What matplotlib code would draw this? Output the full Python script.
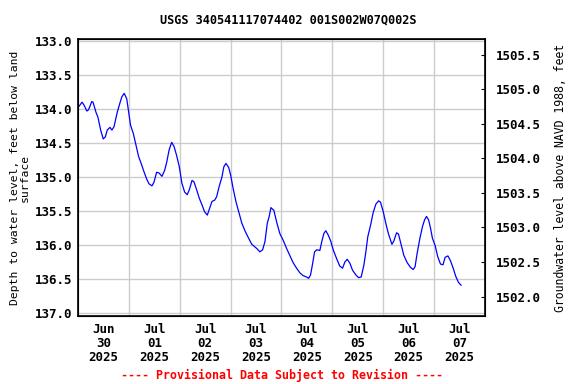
import matplotlib as mpl
mpl.use('Agg')
import matplotlib.pyplot as plt
import matplotlib.dates as mdates
from datetime import datetime, timedelta

plt.rcParams['font.family'] = ['DejaVu Sans Mono']
plt.rcParams['font.weight'] = 'bold'

# hours since 2025-06-30 00:00 and depth to water (ft below land surface)
hours = [0.5, 1.9, 2.8, 4.2, 5.0, 6.5, 7.1, 8.5, 9.4, 10.7, 11.9, 12.9, 13.8, 15.1, 16.0,
         17.0, 18.5, 19.8, 20.7, 21.8, 23.0, 23.9, 24.8, 26.1, 27.3, 28.6, 29.8, 31.1, 32.4,
         33.5, 34.9, 35.8, 37.1, 38.2, 39.6, 40.9, 41.8, 43.0, 44.2, 45.3, 46.5, 47.8, 48.7,
         49.0, 50.3, 51.5, 52.5, 53.8, 54.7, 56.0, 57.2, 58.5, 59.7, 61.0, 61.9, 63.2, 64.5,
         65.4, 66.6, 67.9, 68.8, 69.8, 71.1, 72.0, 73.2, 74.5, 75.8, 77.3, 78.9, 80.5, 82.0,
         84.3, 85.8, 87.1, 88.2, 89.3, 90.2, 91.0, 92.4, 93.7, 95.2, 96.8, 98.4, 100.0, 101.5,
         103.1, 104.7, 106.2, 107.8, 108.8, 109.7, 110.7, 111.6, 112.6, 114.1, 115.0, 116.0,
         116.9, 118.0, 119.2, 120.4, 122.0, 123.5, 124.8, 125.9, 127.0, 128.3, 129.5, 131.1,
         132.4, 133.6, 134.9, 135.8, 136.7, 138.0, 139.2, 140.5, 141.8, 142.7, 144.0, 145.2,
         146.5, 148.1, 149.0, 150.3, 151.2, 152.4, 153.7, 155.3, 156.9, 158.1, 159.0, 160.0,
         161.3, 162.5, 163.5, 164.4, 165.4, 166.3, 167.2, 168.5, 169.7, 171.0, 172.2, 173.2,
         174.5, 175.7, 177.0, 178.2, 179.5, 180.7]
depth = [133.96, 133.90, 133.94, 134.03, 134.01, 133.89, 133.90, 134.05, 134.12, 134.31,
         134.44, 134.41, 134.31, 134.27, 134.31, 134.26, 134.05, 133.91, 133.82, 133.77,
         133.85, 134.05, 134.24, 134.36, 134.52, 134.70, 134.80, 134.92, 135.03, 135.10,
         135.13, 135.08, 134.93, 134.94, 134.99, 134.90, 134.79, 134.60, 134.49, 134.55,
         134.68, 134.85, 135.03, 135.09, 135.22, 135.26, 135.19, 135.05, 135.07, 135.19,
         135.31, 135.41, 135.51, 135.56, 135.48, 135.36, 135.34, 135.29, 135.14, 135.00,
         134.85, 134.80, 134.86, 134.97, 135.17, 135.36, 135.51, 135.68, 135.80, 135.90,
         135.99, 136.05, 136.10, 136.07, 135.95, 135.68, 135.58, 135.45, 135.49, 135.66,
         135.83, 135.93, 136.05, 136.16, 136.26, 136.34, 136.41, 136.45, 136.47, 136.49,
         136.44, 136.27, 136.10, 136.07, 136.08, 135.95, 135.83, 135.79, 135.85, 135.94,
         136.07, 136.20, 136.31, 136.34, 136.25, 136.21, 136.27, 136.37, 136.44, 136.48,
         136.47, 136.29, 136.10, 135.88, 135.71, 135.53, 135.40, 135.35, 135.37, 135.51,
         135.68, 135.84, 135.99, 135.94, 135.82, 135.84, 135.99, 136.15, 136.26, 136.33,
         136.36, 136.32, 136.12, 135.90, 135.73, 135.63, 135.58, 135.63, 135.75, 135.90,
         136.01, 136.17, 136.28, 136.29, 136.18, 136.16, 136.23, 136.34, 136.46, 136.55,
         136.59]

start = datetime(2025, 6, 30)
times = [start + timedelta(hours=h) for h in hours]

left_ticks = [133.0, 133.5, 134.0, 134.5, 135.0, 135.5, 136.0, 136.5, 137.0]
right_ticks = [1502.0, 1502.5, 1503.0, 1503.5, 1504.0, 1504.5, 1505.0, 1505.5]
day_labels = ['Jun\n30\n2025', 'Jul\n01\n2025', 'Jul\n02\n2025', 'Jul\n03\n2025',
              'Jul\n04\n2025', 'Jul\n05\n2025', 'Jul\n06\n2025', 'Jul\n07\n2025']

fig = plt.figure(figsize=(5.76, 3.84), dpi=100)
ax = fig.add_axes([0.1354, 0.177, 0.7066, 0.7207])

ax.plot(times, depth, color='#0000ff', linewidth=0.9)

ax.set_ylim(137.044, 132.975)
ax.set_yticks(left_ticks)
ax.set_yticklabels(['%.1f' % v for v in left_ticks])
ax.set_xlim(start, start + timedelta(days=8))

# gridlines at midnight, labels at noon
ax.set_xticks([start + timedelta(days=i) for i in range(1, 8)])
ax.set_xticklabels([])
ax.set_xticks([start + timedelta(days=i, hours=12) for i in range(8)], minor=True)
ax.set_xticklabels(day_labels, minor=True, linespacing=1.1)
ax.tick_params(axis='x', which='both', length=0, labelsize=9, pad=5)
ax.tick_params(axis='y', length=0, labelsize=9, pad=4)
ax.grid(True, which='major', color='#cccccc', linewidth=1)
for s in ax.spines.values():
    s.set_linewidth(1.2)

ax.set_ylabel('Depth to water level, feet below land\nsurface', fontsize=8.2,
              linespacing=0.95, labelpad=4)

ax2 = ax.twinx()
ax2.set_ylim(1501.72, 1505.72)
ax2.set_yticks(right_ticks)
ax2.set_yticklabels(['%.1f' % v for v in right_ticks])
ax2.tick_params(axis='y', direction='in', length=3, labelsize=9, pad=8)
ax2.set_ylabel('Groundwater level above NAVD 1988, feet', fontsize=8.3, labelpad=9)

fig.text(0.5, 0.948, 'USGS 340541117074402 001S002W07Q002S', ha='center', va='center',
         fontsize=8.6)
fig.text(0.49, 0.023, '---- Provisional Data Subject to Revision ----', ha='center',
         va='center', fontsize=8.4, color='red')

fig.savefig('out.png', dpi=100)
